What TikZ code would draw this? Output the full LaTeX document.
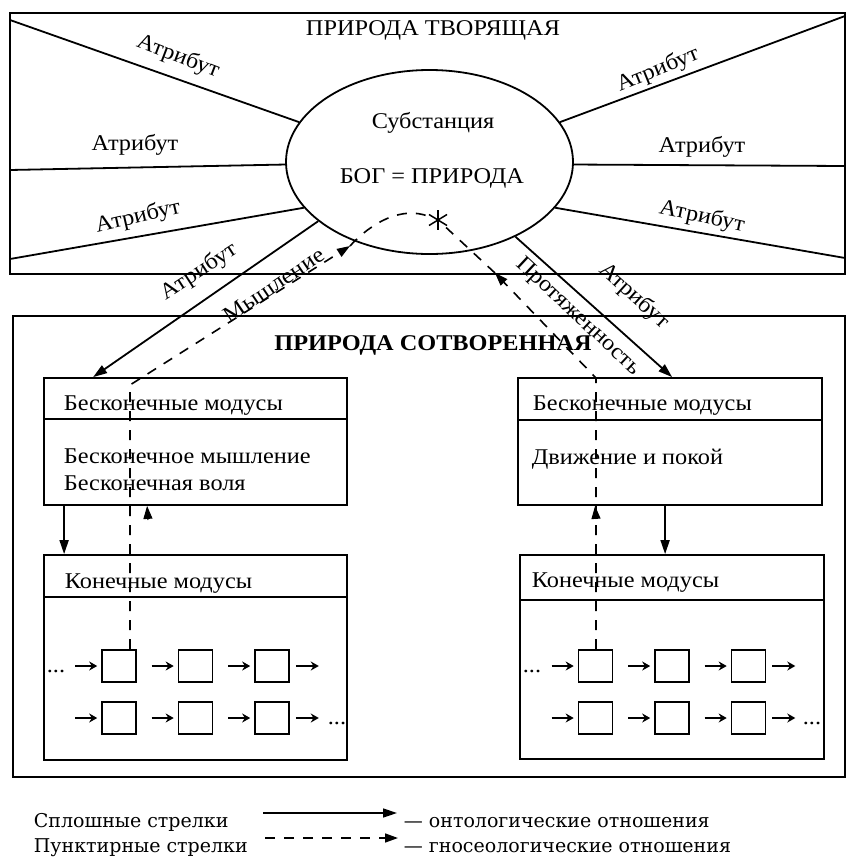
\documentclass[tikz,border=0pt]{standalone}
\usepackage{fontspec}
\setmainfont{Liberation Serif}[FakeStretch=1.08]
\newfontfamily\legfont{DejaVu Serif}
\usetikzlibrary{arrows.meta,shapes.geometric,calc}
\begin{document}
\begin{tikzpicture}[x=1pt,y=-1pt, line width=1.8pt,
 mainf/.style={font=\fontsize{22.5}{26}\selectfont},
 txt/.style={mainf, inner sep=0pt},
 lab/.style={mainf, inner sep=0pt},
 hd/.style={txt, anchor=base west},
 ctr/.style={txt, anchor=base},
 box/.style={draw, rectangle, inner sep=0pt},
 sqr/.style={draw, rectangle, minimum width=34pt, minimum height=32pt, inner sep=0pt, line width=1.6pt},
 onto/.style={-{Triangle[length=14pt,width=9pt]}},
 gnos/.style={dash pattern=on 10pt off 9pt, line width=1.6pt},
 gtip/.style={-{Triangle[length=13pt,width=9pt]}},
 chain/.style={-{Stealth[length=8pt,width=9pt]}, line width=1.6pt},
 legf/.style={font=\legfont\fontsize{19}{22}\selectfont, inner sep=0pt, anchor=base west},
]
\useasboundingbox (0,0) rectangle (846,865);

% frames
\node[box, minimum width=835pt, minimum height=261pt] (top) at (427.5,143.5) {};
\node[box, minimum width=832pt, minimum height=461pt] (bot) at (429,546.5) {};

% substance
\node[draw, ellipse, minimum width=287pt, minimum height=184pt, inner sep=0pt] (sub) at (429.5,162) {};
\node[ctr] (t1) at (433,35) {ПРИРОДА ТВОРЯЩАЯ};
\node[ctr] (t2) at (433,128) {Субстанция};
\node[ctr] (t3) at (432,183) {БОГ = ПРИРОДА};

% radial attribute lines
\coordinate (c1) at (10,20);
\coordinate (c2) at (10,170);
\coordinate (c3) at (10,259);
\coordinate (c4) at (845,16);
\coordinate (c5) at (845,166);
\coordinate (c6) at (845,258);
\draw (c1) -- (sub.163);
\draw (c2) -- (sub.181);
\draw (c3) -- (sub.200);
\draw (c4) -- (sub.17);
\draw (c5) -- (sub.359);
\draw (c6) -- (sub.340);

\node[lab, rotate=-21] (a1) at (178,57) {Атрибут};
\node[lab] (a2) at (135,145) {Атрибут};
\node[lab, rotate=13] (a3) at (138,217) {Атрибут};
\node[lab, rotate=22] (a4) at (658,70) {Атрибут};
\node[lab] (a5) at (702,147) {Атрибут};
\node[lab, rotate=-12] (a6) at (702,217) {Атрибут};

% natura naturata
\node[ctr, font=\fontsize{22.5}{26}\selectfont\bfseries] (t4) at (433,350) {ПРИРОДА СОТВОРЕННАЯ};

% infinite modes boxes
\node[box, minimum width=303pt, minimum height=127pt] (bmL) at (195.5,441.5) {};
\node[box, minimum width=304pt, minimum height=127pt] (bmR) at (670,441.5) {};
\draw ($(bmL.north west)+(0,42)$) -- ($(bmL.north east)+(0,42)$);
\draw ($(bmR.north west)+(0,43)$) -- ($(bmR.north east)+(0,43)$);
\node[hd] (h1) at (63,410) {Бесконечные модусы};
\node[hd] (h2) at (532,410) {Бесконечные модусы};
\node[hd] (b1) at (63,463) {Бесконечное мышление};
\node[hd] (b2) at (63,490) {Бесконечная воля};
\node[hd] (b3) at (531,464) {Движение и покой};

% finite modes boxes
\node[box, minimum width=303pt, minimum height=205pt] (kmL) at (195.5,657.5) {};
\node[box, minimum width=304pt, minimum height=204pt] (kmR) at (672,657) {};
\draw ($(kmL.north west)+(0,43)$) -- ($(kmL.north east)+(0,43)$);
\draw ($(kmR.north west)+(0,46)$) -- ($(kmR.north east)+(0,46)$);
\node[hd] (h3) at (64,588) {Конечные модусы};
\node[hd] (h4) at (531,587) {Конечные модусы};

% attribute arrows to boxes
\coordinate (tipL) at ($(bmL.north west)+(50,0)$);
\coordinate (tipR) at ($(bmR.north west)+(155,0)$);
\draw[onto] (sub.208.7) -- (tipL);
\draw[onto] (sub.319.3) -- (tipR);
\node[lab, rotate=33] (a7) at (199,272) {Атрибут};
\node[lab, rotate=34] (m1) at (274,285) {Мышление};
\node[lab, rotate=-43] (p1) at (578,317) {Протяженность};
\node[lab, rotate=-42] (a8) at (634,296) {Атрибут};

% infinite -> finite
\draw[onto] ($(bmL.south west)+(21,0)$) -- ($(kmL.north west)+(21,0)$);
\draw[onto] ($(bmR.south west)+(148,0)$) -- ($(kmR.north west)+(146,0)$);

% squares
\foreach \r/\y in {1/666,2/718}{
  \foreach \c/\x in {1/119,2/195.5,3/272}{
    \node[sqr] (L\r\c) at (\x,\y) {};
    \node[sqr] (R\r\c) at (\x+476.5,\y) {};
    \draw[chain] ($(L\r\c.west)+(-26,0)$) -- ($(L\r\c.west)+(-4,0)$);
    \draw[chain] ($(R\r\c.west)+(-26,0)$) -- ($(R\r\c.west)+(-4,0)$);
  }
  \draw[chain] ($(L\r3.east)+(6,0)$) -- ($(L\r3.east)+(29,0)$);
  \draw[chain] ($(R\r3.east)+(6,0)$) -- ($(R\r3.east)+(29,0)$);
}
\node[ctr] (d1) at (56,672) {...};
\node[ctr] (d2) at (337,724) {...};
\node[ctr] (d3) at (532,672) {...};
\node[ctr] (d4) at (812,724) {...};

% star
\coordinate (star) at (438,220);
\draw[line width=1.5pt] ($(star)+(0,-10)$) -- ($(star)+(0,10)$);
\draw[line width=1.5pt] ($(star)+(-9,-5.5)$) -- ($(star)+(9,5.5)$);
\draw[line width=1.5pt] ($(star)+(-9,5.5)$) -- ($(star)+(9,-5.5)$);

% gnoseological dashed paths
\coordinate (dL) at (130,385);
\coordinate (aL) at (350,246);
\coordinate (dR) at (596,378);
\coordinate (aR) at (495,273);
\draw[gnos, gtip] ($(L11.north)+(11,0)$) -- (dL) -- (aL);
\draw[gnos, shorten >=10pt] (aL) .. controls (372,222) and (402,206) .. (star);
\draw[gnos, gtip] ($(R11.north)+(0.5,0)$) -- (dR) -- (aR);
\draw[gnos, shorten >=11pt] (aR) -- (star);
\draw[gtip, line width=1pt] (148,520) -- ($(bmL.south west)+(104,0)$);
\draw[gtip, line width=1pt] (596,519) -- ($(bmR.south west)+(78,0)$);

% legend
\coordinate (ls1) at (263,813);
\coordinate (le1) at (397,813);
\coordinate (ls2) at (265,838);
\coordinate (le2) at (398,838);
\draw[onto, line width=1.6pt] (ls1) -- (le1);
\draw[gnos, gtip] (ls2) -- (le2);
\node[legf] (g1) at (33,827) {Сплошные стрелки};
\node[legf] (g2) at (33,852) {Пунктирные стрелки};
\node[legf] (g3) at (403,827) {— онтологические отношения};
\node[legf] (g4) at (403,852) {— гносеологические отношения};
\end{tikzpicture}
\end{document}
